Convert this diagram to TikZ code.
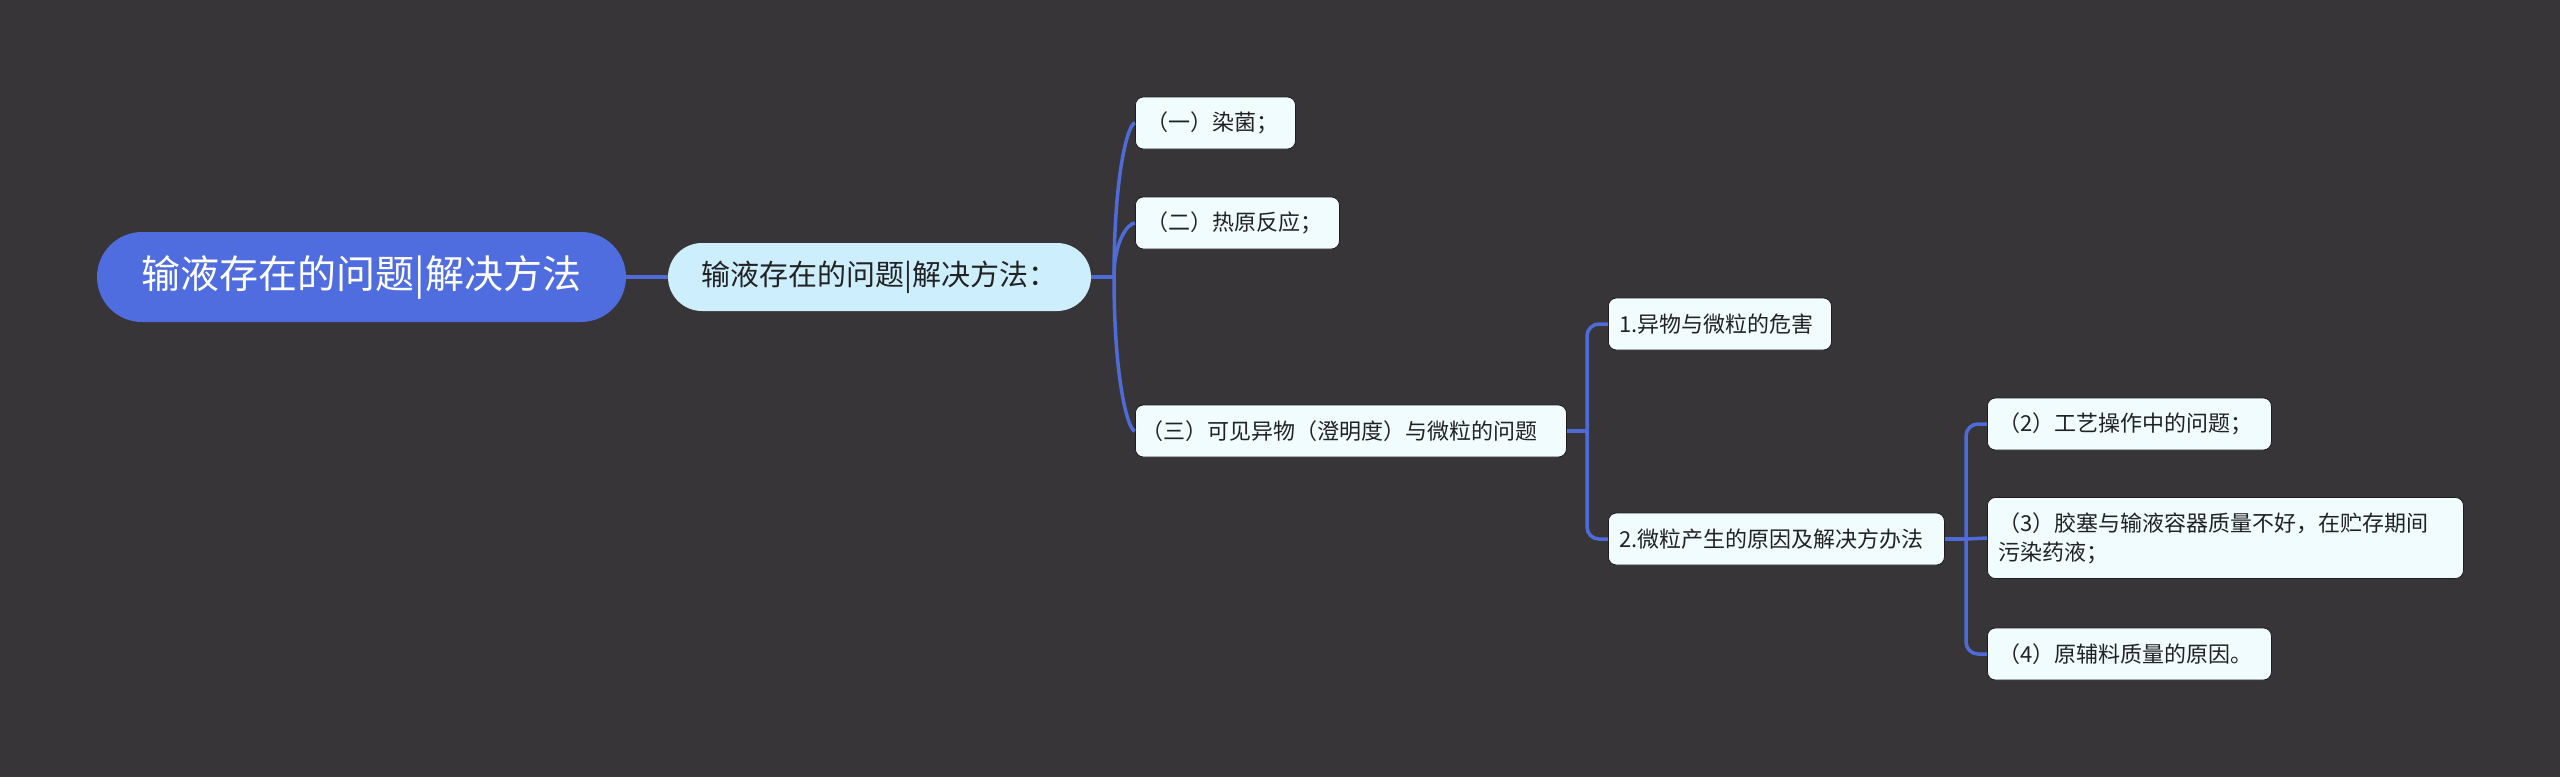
\documentclass[tikz,border=0pt]{standalone}
\usepackage{fontspec}
\setmainfont{Noto Sans CJK SC}
\usetikzlibrary{calc}
\definecolor{bg}{HTML}{373537}
\definecolor{rootc}{HTML}{4F6DDE}
\definecolor{linec}{HTML}{4F6BD8}
\definecolor{lonec}{HTML}{CDEFFD}
\definecolor{leafc}{HTML}{F0FCFD}
\definecolor{textc}{HTML}{222222}
\tikzset{
  rootbox/.style={fill=rootc, rounded corners=45pt, minimum width=529pt, minimum height=90pt, inner sep=0pt, text=white, font=\fontsize{39}{47}\selectfont},
  lonebox/.style={fill=lonec, rounded corners=34pt, minimum width=423pt, minimum height=68pt, inner sep=0pt, text=textc, font=\fontsize{29}{35}\selectfont},
  leaf/.style={fill=leafc, draw=black!45!bg, line width=0.8pt, rounded corners=8pt, inner xsep=11pt, inner ysep=0pt, minimum height=52pt, align=left, anchor=west, text=textc, font=\fontsize{22}{29}\selectfont},
  conn/.style={draw=linec, line width=3.5pt}
}
\begin{document}
\begin{tikzpicture}[x=1pt,y=-1pt]
\fill[bg] (0,0) rectangle (2560,777);
\useasboundingbox (0,0) rectangle (2560,777);
% nodes
\node[rootbox] (root) at (361.5,277) {输液存在的问题|解决方法};
\node[lonebox] (l1) at (879.5,277) {输液存在的问题|解决方法：};
\node[leaf, text width=138pt] (n1) at (1135,123) {（一）染菌；};
\node[leaf, text width=182pt] (n2) at (1135,223) {（二）热原反应；};
\node[leaf, inner xsep=6pt, text width=419pt] (n3) at (1135,431) {（三）可见异物（澄明度）与微粒的问题};
\node[leaf, text width=201pt] (m1) at (1608,324) {1.异物与微粒的危害};
\node[leaf, text width=314pt] (m2) at (1608,539) {2.微粒产生的原因及解决方办法};
\node[leaf, text width=262pt] (k1) at (1987,424) {（2）工艺操作中的问题；};
\node[leaf, text width=454pt, minimum height=81pt] (k2) at (1987,538) {（3）胶塞与输液容器质量不好，在贮存期间\\污染药液；};
\node[leaf, text width=262pt] (k3) at (1987,654) {（4）原辅料质量的原因。};
% connectors
\coordinate (b1) at (1114,277);
\coordinate (b2) at (1587,431);
\coordinate (b3) at (1966,539);
\draw[conn] (root.east) -- (l1.west);
\draw[conn] (l1.east) -- (b1);
\foreach \n in {n1,n2,n3}{
  \draw[conn] (b1) .. controls ($(b1)!0.667!(b1 |- \n.west)$) and ($(\n.west)!0.333!(b1 |- \n.west)$) .. (\n.west);
}
\draw[conn] (n3.east) -- (b2);
\draw[conn, rounded corners=12pt] (b2) |- (m1.west);
\draw[conn, rounded corners=12pt] (b2) |- (m2.west);
\draw[conn] (m2.east) -- (b3);
\draw[conn, rounded corners=12pt] (b3) |- (k1.west);
\draw[conn] (b3) -- (k2.west);
\draw[conn, rounded corners=12pt] (b3) |- (k3.west);
\end{tikzpicture}
\end{document}
